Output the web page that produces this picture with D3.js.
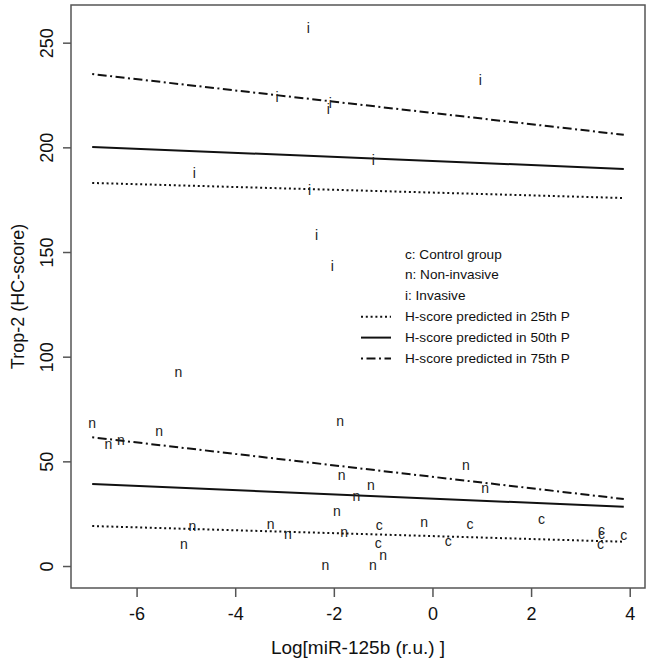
<!DOCTYPE html>
<html><head><meta charset="utf-8">
<script src="https://cdn.jsdelivr.net/npm/d3@7"></script>
<style>
body{margin:0;background:#fff;}
svg{display:block;}
.narrow{font-family:"Liberation Sans Narrow","Arial Narrow","Liberation Sans",Arial,sans-serif;}
</style></head>
<body><svg id="chart" width="650" height="668"></svg>
<script>
// ---- data ----
const xTicks = [-6, -4, -2, 0, 2, 4];
const yTicks = [0, 50, 100, 150, 200, 250];

const invasiveX = [-2.52, 0.97, -3.15, -2.07, -2.11, -1.20, -4.83, -2.49, -2.35, -2.03];
const invasiveY = [256.6, 231.7, 223.8, 221.0, 217.9, 193.5, 187.6, 179.2, 157.8, 142.7];

const nonInvX = [-6.90, -6.57, -6.32, -5.54, -5.15, -1.87, -1.84, -1.54, -1.25, 0.68, 1.07, -1.94, -4.87, -5.04, -3.28, -2.93, -1.79, -0.17, -1.00, -1.21, -2.17];
const nonInvY = [67.9, 58.0, 59.6, 63.9, 92.5, 68.8, 42.9, 33.3, 38.4, 47.7, 37.0, 25.7, 18.5, 10.2, 19.6, 15.0, 15.8, 20.6, 4.7, 0, 0];

const controlX = [0.76, 2.21, -1.08, -1.10, 0.32, 3.43, 3.43, 3.41, 3.88];
const controlY = [19.6, 21.9, 19.0, 10.7, 11.5, 16.6, 15.0, 10.2, 14.2];

// predicted lines (start, end)
const lineX = [-6.9, 3.88];
const p25Low = [19.1, 11.6], p50Low = [39.2, 28.3], p75Low = [61.5, 32.0];
const p25High = [183.0, 175.8], p50High = [200.2, 189.7], p75High = [235.0, 206.0];

const legendLetters = ["c: Control group", "n: Non-invasive", "i: Invasive"];
const legendLines = ["H-score predicted in 25th P", "H-score predicted in 50th P", "H-score predicted in 75th P"];

// ---- chart ----
const svg = d3.select("#chart");
const L = 71, R = 645, T = 5, B = 588;
const x = d3.scaleLinear().domain([-7.33, 4.31]).range([L, R]);
const y = d3.scaleLinear().domain([-10.5, 268]).range([B, T]);

const dash = {p25: "2,2.8", p50: null, p75: "2,3.5,9,3.5"};

// lines
const lineGen = d3.line().x(d => x(d[0])).y(d => y(d[1]));
const lines = [
  [p25Low, "p25"], [p50Low, "p50"], [p75Low, "p75"],
  [p25High, "p25"], [p50High, "p50"], [p75High, "p75"]
];
lines.forEach(([ys, k]) => {
  svg.append("path")
    .attr("d", lineGen(lineX.map((xv, i) => [xv, ys[i]])))
    .attr("fill", "none").attr("stroke", "#111")
    .attr("stroke-width", 2)
    .attr("stroke-dasharray", dash[k]);
});

// points as letters
function letters(xs, ys, ch) {
  svg.append("g").selectAll("text").data(xs.map((v, i) => [v, ys[i]])).join("text")
    .attr("x", d => x(d[0])).attr("y", d => y(d[1]))
    .attr("dy", "0.3em")
    .attr("text-anchor", "middle")
    .attr("font-family", "Liberation Sans, Arial, sans-serif")
    .attr("font-size", 14).attr("fill", "#222")
    .text(ch);
}
letters(invasiveX, invasiveY, "i");
letters(nonInvX, nonInvY, "n");
letters(controlX, controlY, "c");

// frame
svg.append("rect").attr("x", L).attr("y", T).attr("width", R - L).attr("height", B - T)
  .attr("fill", "none").attr("stroke", "#555").attr("stroke-width", 1.5);

// axes
const fmt = d => String(d);
const xAxis = svg.append("g").attr("transform", `translate(0,${B})`)
  .call(d3.axisBottom(x).tickValues(xTicks).tickSize(9).tickPadding(10).tickFormat(fmt));
xAxis.select(".domain").remove();
xAxis.selectAll("line").attr("stroke", "#555").attr("stroke-width", 1.5);
xAxis.selectAll("text").attr("font-size", 18).attr("font-family", "Liberation Sans, Arial, sans-serif").attr("fill", "#111");

const yAxis = svg.append("g").attr("transform", `translate(${L},0)`)
  .call(d3.axisLeft(y).tickValues(yTicks).tickSize(8).tickFormat(fmt));
yAxis.select(".domain").remove();
yAxis.selectAll("line").attr("stroke", "#555").attr("stroke-width", 1.5);
yAxis.selectAll("text")
  .attr("x", null).attr("dy", null)
  .attr("transform", "translate(-24,0) rotate(-90)")
  .attr("text-anchor", "middle").attr("dominant-baseline", "central")
  .attr("font-size", 18).attr("font-family", "Liberation Sans, Arial, sans-serif").attr("fill", "#111");

// axis titles
svg.append("text").attr("class", "narrow")
  .attr("x", (L + R) / 2).attr("y", 654).attr("text-anchor", "middle")
  .attr("font-size", 19).attr("fill", "#111").text("Log[miR-125b (r.u.) ]");
svg.append("text")
  .attr("transform", `translate(18,${(T + B) / 2}) rotate(-90)`)
  .attr("text-anchor", "middle").attr("dominant-baseline", "central")
  .attr("font-family", "Liberation Sans, Arial, sans-serif")
  .attr("font-size", 18).attr("fill", "#111").text("Trop-2 (HC-score)");

// legend
const legX = 405, legY0 = 254, legStep = 20.9;
const lg = svg.append("g").attr("class", "narrow");
legendLetters.concat(legendLines).forEach((t, i) => {
  lg.append("text").attr("x", legX).attr("y", legY0 + i * legStep)
    .attr("dominant-baseline", "central")
    .attr("font-size", 13.6).attr("fill", "#111").text(t);
});
["p25", "p50", "p75"].forEach((k, i) => {
  lg.append("line").attr("x1", 361).attr("x2", 391)
    .attr("y1", legY0 + (i + 3) * legStep).attr("y2", legY0 + (i + 3) * legStep)
    .attr("stroke", "#111").attr("stroke-width", 2)
    .attr("stroke-dasharray", dash[k]);
});
</script></body></html>
